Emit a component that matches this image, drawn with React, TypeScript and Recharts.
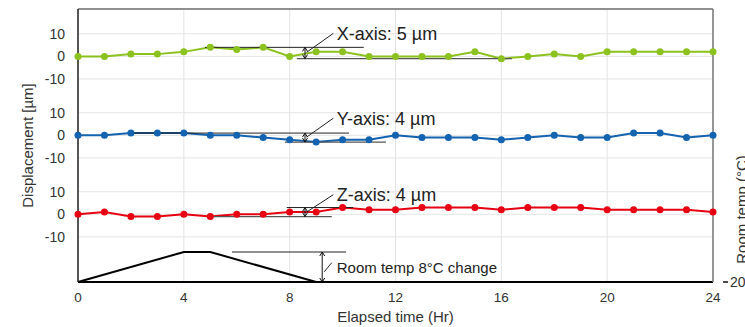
import React from "react";
import {
  ComposedChart,
  Line,
  XAxis,
  YAxis,
  CartesianGrid,
  ReferenceLine,
  ReferenceDot,
} from "recharts";

// ---- data ----
const hours = [0, 1, 2, 3, 4, 5, 6, 7, 8, 9, 10, 11, 12, 13, 14, 15, 16, 17, 18, 19, 20, 21, 22, 23, 24];
const xAxisDisp = [0, 0, 1, 1, 2, 4, 3, 4, 0, 2, 2, 0, 0, 0, 0, 2, -1, 0, 1, 0, 2, 2, 2, 2, 2];
const yAxisDisp = [0, 0, 1, 1, 1, 0, 0, -1, -2, -3, -2, -2, 0, -1, -1, -1, -2, -1, 0, -1, -1, 1, 1, -1, 0];
const zAxisDisp = [0, 1, -1, -1, 0, -1, 0, 0, 1, 1, 3, 2, 2, 3, 3, 3, 2, 3, 3, 3, 2, 2, 2, 2, 1];
const tempHours = [0, 4, 5, 9, 24];
const roomTemp = [20, 28, 28, 20, 20];
const hourTicks = [0, 4, 8, 12, 16, 20, 24];
const bandTicks = [-10, 0, 10];
const tempTicks = [20];

// stacking offsets of the three displacement bands on the shared left axis
const bandOffset = { X: 70, Y: 35, Z: 0 };
const leftDomain = [-30, 91];
const rightDomain = [20, 92.8];

// annotations (data units)
const annotations = [
  { band: "X", top: 4, bottom: -1, topSpan: [4.8, 10.8], bottomSpan: [8.27, 16.4], arrowAt: 8.58, leaderFrom: [8.64, 1.8], leaderTo: [9.65, 10.2], label: "X-axis: 5 µm", labelAt: [9.78, 10] },
  { band: "Y", top: 1, bottom: -3, topSpan: [2.04, 10.24], bottomSpan: [7.82, 11.64], arrowAt: 8.58, leaderFrom: [8.64, -0.8], leaderTo: [9.65, 7.6], label: "Y-axis: 4 µm", labelAt: [9.78, 7.3] },
  { band: "Z", top: 3, bottom: -1, topSpan: [7.89, 10.4], bottomSpan: [5.0, 9.59], arrowAt: 8.58, leaderFrom: [8.64, 1.0], leaderTo: [9.65, 8.7], label: "Z-axis: 4 µm", labelAt: [9.78, 8.6] },
];
const tempAnno = { top: 28, bottom: 20, topSpan: [5.82, 10.13], arrowAt: 9.23, leaderFrom: [9.31, 22.75], leaderTo: [9.59, 25.15], label: "Room temp 8°C change", labelAt: [9.78, 24.0] };

const rows = hours.map((h, i) => ({
  h,
  X: xAxisDisp[i] + bandOffset.X,
  Y: yAxisDisp[i] + bandOffset.Y,
  Z: zAxisDisp[i] + bandOffset.Z,
}));
const tempRows = tempHours.map((h, i) => ({ h, t: roomTemp[i] }));

const leftTicks = [bandOffset.Z, bandOffset.Y, bandOffset.X].flatMap((o) => bandTicks.map((t) => t + o));
const fmtLeft = (v: number) => {
  const offs = [bandOffset.X, bandOffset.Y, bandOffset.Z];
  for (const o of offs) if (Math.abs(v - o) <= 10) return String(v - o);
  return "";
};

const FONT = "'Liberation Sans', Arial, Helvetica, sans-serif";
const GREEN = "#8cc21f";
const BLUE = "#1363b0";
const RED = "#e60012";

const DoubleArrow = (p: any) => {
  const { x1, y1, x2, y2 } = p;
  const top = Math.min(y1, y2);
  const bot = Math.max(y1, y2);
  return (
    <g stroke="#111" strokeWidth={1} fill="none">
      <line x1={x1} y1={top} x2={x2} y2={bot} />
      <polyline points={`${x1 - 2.5},${top + 4} ${x1},${top} ${x1 + 2.5},${top + 4}`} />
      <polyline points={`${x1 - 2.5},${bot - 4} ${x1},${bot} ${x1 + 2.5},${bot - 4}`} />
    </g>
  );
};

const makeLabel = (text: string, size: number) => (p: any) => (
  <text x={p.cx} y={p.cy} dominantBaseline="central" fontSize={size} fill="#222" fontFamily={FONT}>
    {text}
  </text>
);

const RightTick = (p: any) => {
  const { x, y, payload } = p;
  return (
    <g>
      <line x1={x + 10} y1={y} x2={x + 15} y2={y} stroke="#111" strokeWidth={1.5} />
      <text x={x + 17} y={y} dominantBaseline="central" fontSize={14} fill="#333" fontFamily={FONT}>
        {payload.value}
      </text>
    </g>
  );
};

export default function App() {
  const off = (band: string) => (bandOffset as any)[band] as number;
  return (
    <div style={{ position: "absolute", left: 0, top: 0, width: 745, height: 327, fontFamily: FONT, overflow: "hidden" }}>
      <ComposedChart width={745} height={327} data={rows} margin={{ top: 9, right: 0, bottom: 0, left: 0 }}>
        <CartesianGrid yAxisId="L" stroke="#e4e4e4" strokeWidth={1} />
        <XAxis
          dataKey="h"
          type="number"
          domain={[0, 24]}
          ticks={hourTicks}
          interval={0}
          height={45}
          tickLine={false}
          tickSize={0}
          tickMargin={10}
          axisLine={{ stroke: "#000", strokeWidth: 2 }}
          tick={{ fill: "#333", fontSize: 13.5 }}
          label={{
            content: (lp: any) => {
              const vb = lp.viewBox || { x: 78, y: 282, width: 635, height: 45 };
              return (
                <text x={vb.x + vb.width / 2} y={vb.y + 34} textAnchor="middle" dominantBaseline="central" fontSize={15} fill="#333" fontFamily={FONT}>
                  Elapsed time (Hr)
                </text>
              );
            },
          }}
        />
        <YAxis
          yAxisId="L"
          type="number"
          domain={leftDomain}
          ticks={leftTicks}
          interval={0}
          width={78}
          tickLine={false}
          tickSize={0}
          tickMargin={13}
          tickFormatter={fmtLeft}
          axisLine={{ stroke: "#222", strokeWidth: 1.5 }}
          tick={{ fill: "#333", fontSize: 14 }}
          label={{
            content: (lp: any) => {
              const vb = lp.viewBox || { x: 0, y: 9, width: 78, height: 273 };
              const cx = vb.x + 27;
              const cy = vb.y + vb.height / 2;
              return (
                <text x={cx} y={cy} transform={`rotate(-90 ${cx} ${cy})`} textAnchor="middle" dominantBaseline="central" fontSize={15} fill="#333" fontFamily={FONT}>
                  Displacement [µm]
                </text>
              );
            },
          }}
        />
        <YAxis
          yAxisId="R"
          orientation="right"
          type="number"
          domain={rightDomain}
          ticks={tempTicks}
          interval={0}
          width={32}
          tickLine={false}
          tickSize={0}
          tickMargin={0}
          axisLine={{ stroke: "#777", strokeWidth: 1.5 }}
          tick={<RightTick />}
          label={{
            content: (lp: any) => {
              const vb = lp.viewBox || { x: 713, y: 9, width: 32, height: 273 };
              const cx = vb.x + 28;
              const cy = vb.y + vb.height / 2 + 64;
              return (
                <text x={cx} y={cy} transform={`rotate(-90 ${cx} ${cy})`} textAnchor="middle" dominantBaseline="central" fontSize={15} fill="#333" fontFamily={FONT}>
                  Room temp (°C)
                </text>
              );
            },
          }}
        />

        <ReferenceLine yAxisId="L" y={leftDomain[1]} stroke="#6e6e6e" strokeWidth={1.5} />

        <Line yAxisId="R" data={tempRows} dataKey="t" stroke="#000" strokeWidth={2} dot={false} isAnimationActive={false} />
        <Line yAxisId="L" dataKey="Z" stroke={RED} strokeWidth={2} dot={{ r: 3.5, fill: RED, stroke: RED, strokeWidth: 0 }} isAnimationActive={false} />
        <Line yAxisId="L" dataKey="Y" stroke={BLUE} strokeWidth={2} dot={{ r: 3.5, fill: BLUE, stroke: BLUE, strokeWidth: 0 }} isAnimationActive={false} />
        <Line yAxisId="L" dataKey="X" stroke={GREEN} strokeWidth={2} dot={{ r: 3.5, fill: GREEN, stroke: GREEN, strokeWidth: 0 }} isAnimationActive={false} />

        {annotations.map((a) => {
          const o = off(a.band);
          return (
            <React.Fragment key={a.band}>
              <ReferenceLine yAxisId="L" segment={[{ x: a.topSpan[0], y: a.top + o }, { x: a.topSpan[1], y: a.top + o }]} stroke="#222" strokeWidth={1} />
              <ReferenceLine yAxisId="L" segment={[{ x: a.bottomSpan[0], y: a.bottom + o }, { x: a.bottomSpan[1], y: a.bottom + o }]} stroke="#555" strokeWidth={1.2} />
              <ReferenceLine yAxisId="L" segment={[{ x: a.arrowAt, y: a.top + o }, { x: a.arrowAt, y: a.bottom + o }]} shape={DoubleArrow} />
              <ReferenceLine yAxisId="L" segment={[{ x: a.leaderFrom[0], y: a.leaderFrom[1] + o }, { x: a.leaderTo[0], y: a.leaderTo[1] + o }]} stroke="#222" strokeWidth={1} />
              <ReferenceDot yAxisId="L" x={a.labelAt[0]} y={a.labelAt[1] + o} r={1} shape={makeLabel(a.label, 18)} />
            </React.Fragment>
          );
        })}

        <ReferenceLine yAxisId="R" segment={[{ x: tempAnno.topSpan[0], y: tempAnno.top }, { x: tempAnno.topSpan[1], y: tempAnno.top }]} stroke="#222" strokeWidth={1} />
        <ReferenceLine yAxisId="R" segment={[{ x: tempAnno.arrowAt, y: tempAnno.top }, { x: tempAnno.arrowAt, y: tempAnno.bottom }]} shape={DoubleArrow} />
        <ReferenceLine yAxisId="R" segment={[{ x: tempAnno.leaderFrom[0], y: tempAnno.leaderFrom[1] }, { x: tempAnno.leaderTo[0], y: tempAnno.leaderTo[1] }]} stroke="#222" strokeWidth={1} />
        <ReferenceDot yAxisId="R" x={tempAnno.labelAt[0]} y={tempAnno.labelAt[1]} r={1} shape={makeLabel(tempAnno.label, 15)} />
      </ComposedChart>
    </div>
  );
}
